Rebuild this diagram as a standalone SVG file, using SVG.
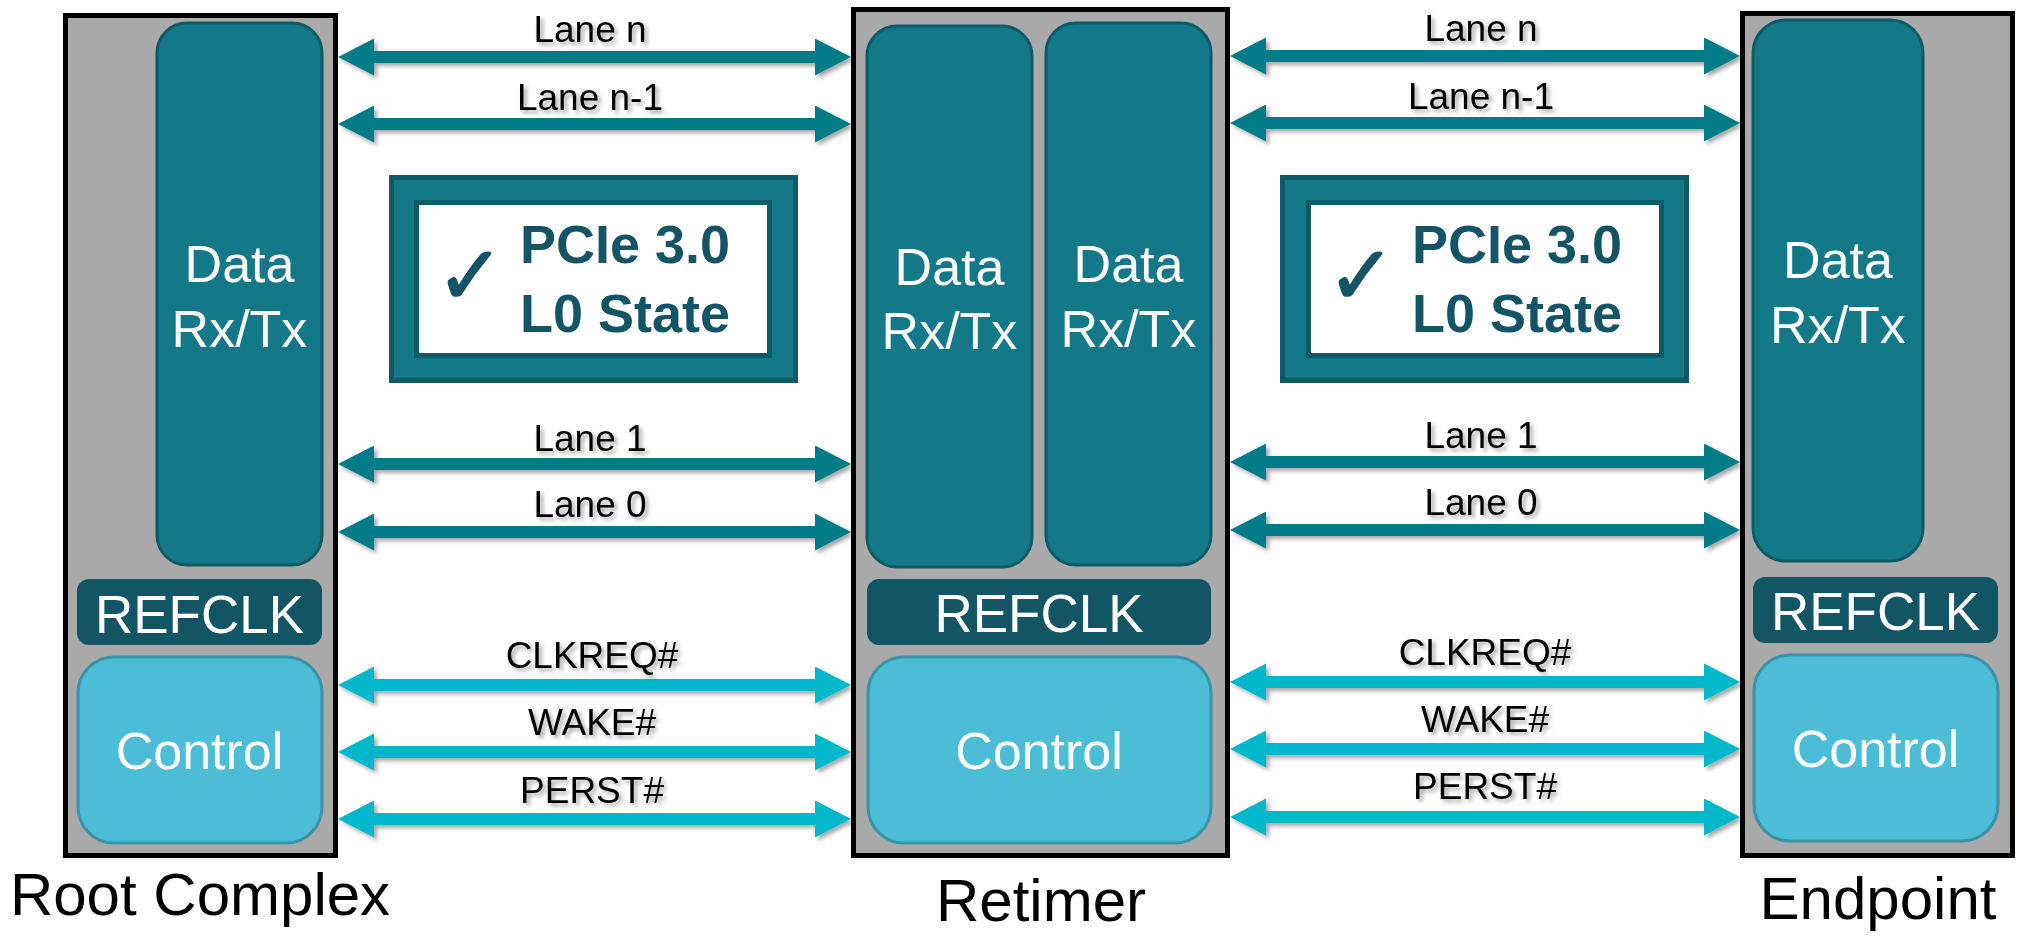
<svg xmlns="http://www.w3.org/2000/svg" width="2034" height="937" viewBox="0 0 2034 937">
<style>
.outer{fill:#a9a9a9;stroke:#000;stroke-width:5}
.data{fill:#137887;stroke:#0e5a67;stroke-width:3}
.refclk{fill:#125565}
.ctrl{fill:#4bbdd6;stroke:#3a93a6;stroke-width:3}
.wt{font-family:"Liberation Sans",Arial,sans-serif;fill:#fff;text-anchor:middle}
.big{font-size:52px}
.lbl{font-family:"Liberation Sans",Arial,sans-serif;font-size:60px;fill:#000;text-anchor:middle}
.lane{font-family:"Liberation Sans",Arial,sans-serif;font-size:37px;fill:#000;text-anchor:middle}
.ln{stroke:#017b88;stroke-width:12;marker-start:url(#ha);marker-end:url(#ha)}
.cl{stroke:#00b8c9;stroke-width:12;marker-start:url(#hc);marker-end:url(#hc)}
.st-o{fill:#137887;stroke:#0e5a67;stroke-width:5}
.st-i{fill:#fff;stroke:#0e5a67;stroke-width:5}
.st-t{font-family:"Liberation Sans",Arial,sans-serif;font-size:54px;font-weight:bold;fill:#135466}
.chk{font-family:"DejaVu Sans",sans-serif;font-size:82px;fill:#135466;stroke:#135466;stroke-width:1.5}
</style>
<defs>
<filter id="sh" x="-5%" y="-50%" width="110%" height="200%">
<feDropShadow dx="3" dy="3" stdDeviation="2" flood-color="#000" flood-opacity="0.35"/>
</filter>
<marker id="ha" markerUnits="userSpaceOnUse" markerWidth="36" markerHeight="37" refX="6" refY="18.5" orient="auto-start-reverse">
<path d="M0,0 L36,18.5 L0,37 Z" fill="#017b88"/>
</marker>
<marker id="hc" markerUnits="userSpaceOnUse" markerWidth="36" markerHeight="37" refX="6" refY="18.5" orient="auto-start-reverse">
<path d="M0,0 L36,18.5 L0,37 Z" fill="#00b8c9"/>
</marker>
</defs>
<rect width="2034" height="937" fill="#fff"/>

<g id="root-complex">
<rect class="outer" x="65.5" y="15.5" width="270" height="840"/>
<rect class="data" x="157" y="23" width="165" height="542" rx="30"/>
<text class="wt big" x="239.5" y="282">Data</text>
<text class="wt big" x="239.5" y="347">Rx/Tx</text>
<rect class="refclk" x="77" y="579" width="245" height="66" rx="12"/>
<text class="wt" x="199.5" y="633" font-size="53">REFCLK</text>
<rect class="ctrl" x="78" y="657" width="244" height="186" rx="36"/>
<text class="wt big" x="199.5" y="769">Control</text>
<text class="lbl" x="200" y="915">Root Complex</text>
</g>

<g id="retimer">
<rect class="outer" x="853.5" y="9.5" width="374" height="846"/>
<rect class="data" x="867" y="26" width="165" height="541" rx="30"/>
<text class="wt big" x="949.5" y="285">Data</text>
<text class="wt big" x="949.5" y="349">Rx/Tx</text>
<rect class="data" x="1046" y="23" width="165" height="542" rx="30"/>
<text class="wt big" x="1128.5" y="282">Data</text>
<text class="wt big" x="1128.5" y="347">Rx/Tx</text>
<rect class="refclk" x="867" y="579" width="344" height="66" rx="12"/>
<text class="wt" x="1039" y="632" font-size="53">REFCLK</text>
<rect class="ctrl" x="868" y="657" width="343" height="186" rx="36"/>
<text class="wt big" x="1039" y="769">Control</text>
<text class="lbl" x="1041" y="921">Retimer</text>
</g>

<g id="endpoint">
<rect class="outer" x="1742.5" y="13.5" width="270" height="842"/>
<rect class="data" x="1753" y="20" width="170" height="541" rx="33"/>
<text class="wt big" x="1838" y="278">Data</text>
<text class="wt big" x="1838" y="343">Rx/Tx</text>
<rect class="refclk" x="1753" y="577" width="245" height="66" rx="12"/>
<text class="wt" x="1875.5" y="630" font-size="53">REFCLK</text>
<rect class="ctrl" x="1754" y="655" width="244" height="186" rx="36"/>
<text class="wt big" x="1875.5" y="767">Control</text>
<text class="lbl" x="1878" y="919">Endpoint</text>
</g>

<g id="status-left">
<rect class="st-o" x="391.5" y="177.5" width="404" height="203"/>
<rect class="st-i" x="416.5" y="202.5" width="353" height="153"/>
<text class="chk" x="436" y="304">✓</text>
<text class="st-t" x="520" y="263">PCIe 3.0</text>
<text class="st-t" x="520" y="332">L0 State</text>
</g>

<g id="status-right">
<rect class="st-o" x="1282.5" y="177.5" width="404" height="203"/>
<rect class="st-i" x="1308.5" y="202.5" width="353" height="153"/>
<text class="chk" x="1327" y="304">✓</text>
<text class="st-t" x="1412" y="263">PCIe 3.0</text>
<text class="st-t" x="1412" y="332">L0 State</text>
</g>

<g id="connectors" filter="url(#sh)">
<line class="ln" x1="368" y1="57" x2="821" y2="57"/>
<line class="ln" x1="368" y1="124" x2="821" y2="124"/>
<line class="ln" x1="368" y1="464" x2="821" y2="464"/>
<line class="ln" x1="368" y1="532" x2="821" y2="532"/>
<line class="cl" x1="368" y1="685" x2="821" y2="685"/>
<line class="cl" x1="368" y1="752" x2="821" y2="752"/>
<line class="cl" x1="368" y1="819" x2="821" y2="819"/>
<line class="ln" x1="1260" y1="56" x2="1710" y2="56"/>
<line class="ln" x1="1260" y1="123" x2="1710" y2="123"/>
<line class="ln" x1="1260" y1="462" x2="1710" y2="462"/>
<line class="ln" x1="1260" y1="530" x2="1710" y2="530"/>
<line class="cl" x1="1260" y1="682" x2="1710" y2="682"/>
<line class="cl" x1="1260" y1="749" x2="1710" y2="749"/>
<line class="cl" x1="1260" y1="817" x2="1710" y2="817"/>
</g>

<g id="connector-labels" filter="url(#sh)">
<text class="lane" x="590" y="42">Lane n</text>
<text class="lane" x="590" y="110">Lane n-1</text>
<text class="lane" x="590" y="451">Lane 1</text>
<text class="lane" x="590" y="517">Lane 0</text>
<text class="lane" x="592" y="668">CLKREQ#</text>
<text class="lane" x="592" y="735">WAKE#</text>
<text class="lane" x="592" y="803">PERST#</text>
<text class="lane" x="1481" y="41">Lane n</text>
<text class="lane" x="1481" y="109">Lane n-1</text>
<text class="lane" x="1481" y="448">Lane 1</text>
<text class="lane" x="1481" y="515">Lane 0</text>
<text class="lane" x="1485" y="665">CLKREQ#</text>
<text class="lane" x="1485" y="732">WAKE#</text>
<text class="lane" x="1485" y="799">PERST#</text>
</g>
</svg>
